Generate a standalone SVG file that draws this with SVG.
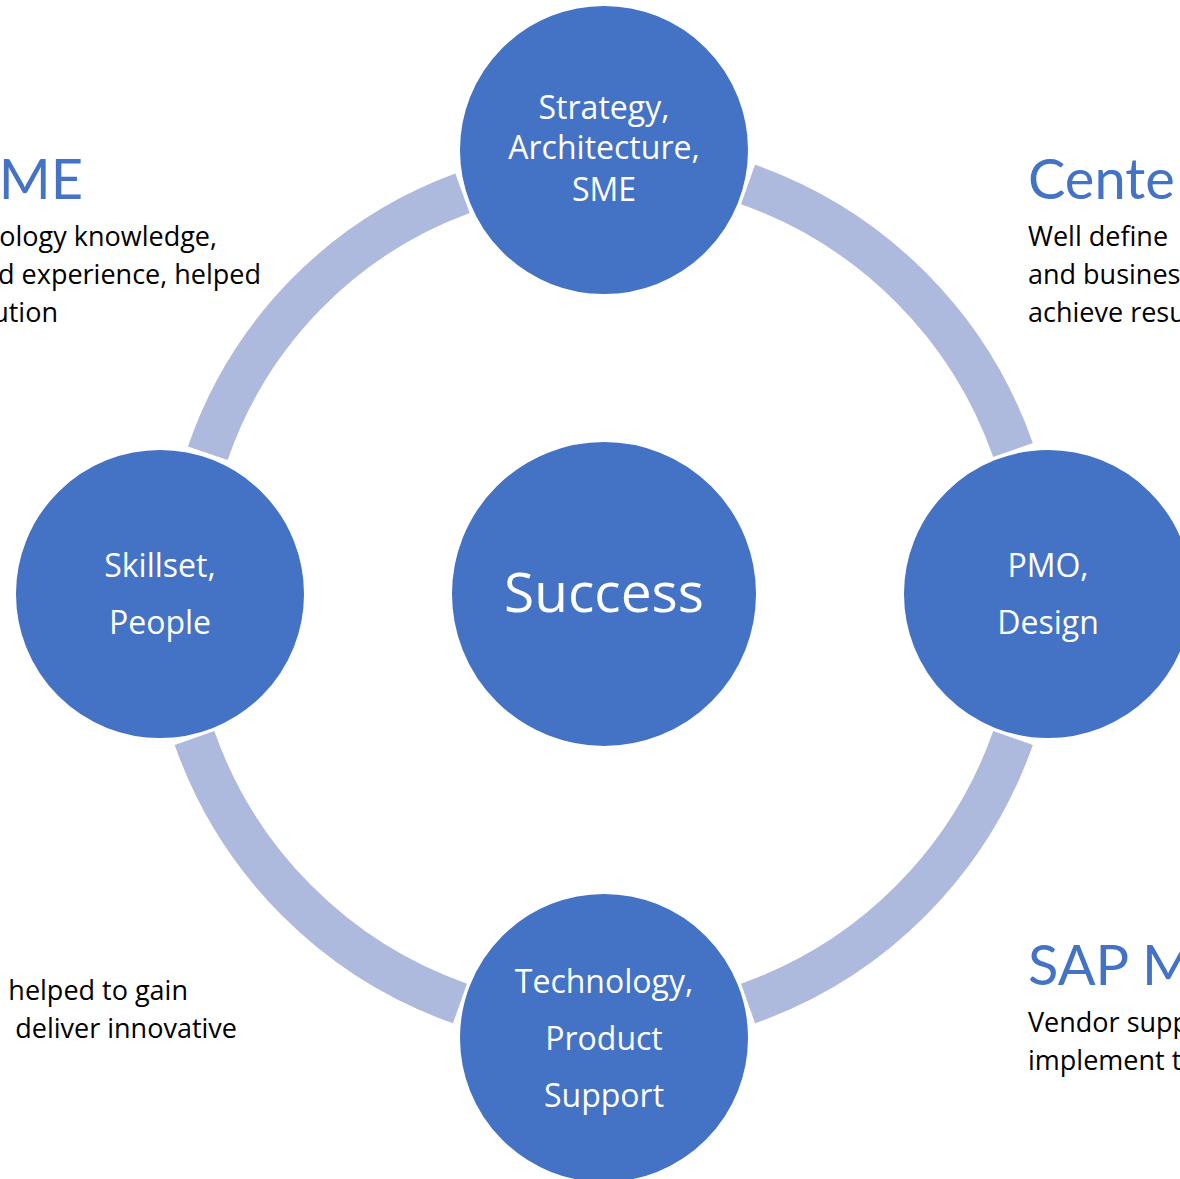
<svg xmlns="http://www.w3.org/2000/svg" width="1180" height="1179" viewBox="0 0 1180 1179">
<style>
.ring{fill:none;stroke:#AEB9DE;stroke-width:42;stroke-linecap:butt}
.node{fill:#4472C4;stroke:#fff;stroke-width:3}
.nt{font-family:"Open Sans",Lato,sans-serif;fill:#fff;font-size:32px;text-anchor:middle}
.title{font-family:Lato,"Open Sans",sans-serif;fill:#4472C4;font-size:56px}
.body{font-family:"Open Sans",Lato,sans-serif;fill:#000;font-size:27px}
.end{text-anchor:end}
</style>
<rect width="1180" height="1179" fill="#fff"/>
<g id="connectors">
<path class="ring" d="M207.8,453.3 A423,423 0 0 1 462.5,193.3"/>
<path class="ring" d="M748,184.5 A434,434 0 0 1 1013,450"/>
<path class="ring" d="M1013,738 A434,434 0 0 1 748,1003.5"/>
<path class="ring" d="M460,1003.5 A434,434 0 0 1 194.5,738"/>
</g>
<g id="node-top">
<circle class="node" cx="604" cy="150" r="145.5"/>
<text class="nt" x="604" y="119">Strategy,</text>
<text class="nt" x="604" y="159">Architecture,</text>
<text class="nt" x="604" y="201">SME</text>
</g>
<g id="node-left">
<circle class="node" cx="160" cy="594" r="145.5"/>
<text class="nt" x="160" y="577">Skillset,</text>
<text class="nt" x="160" y="634">People</text>
</g>
<g id="node-right">
<circle class="node" cx="1048" cy="594" r="145.5"/>
<text class="nt" x="1048" y="577">PMO,</text>
<text class="nt" x="1048" y="634">Design</text>
</g>
<g id="node-bottom">
<circle class="node" cx="604" cy="1038" r="145.5"/>
<text class="nt" x="604" y="993">Technology,</text>
<text class="nt" x="604" y="1050">Product</text>
<text class="nt" x="604" y="1107">Support</text>
</g>
<g id="node-center">
<circle class="node" cx="604" cy="594" r="153.5"/>
<text class="nt" x="604" y="612" style="font-size:55px">Success</text>
</g>
<g id="text-left-top">
<text class="title end" x="83" y="199">ME</text>
<text class="body end" x="217" y="246">ology knowledge,</text>
<text class="body end" x="261" y="284">d experience, helped</text>
<text class="body end" x="58" y="322">ution</text>
</g>
<g id="text-left-bottom">
<text class="body end" x="188" y="1000">helped to gain</text>
<text class="body end" x="237" y="1038">deliver innovative</text>
</g>
<g id="text-right-top">
<text class="title" x="1028" y="199">Cente</text>
<text class="body" x="1028" y="246">Well define</text>
<text class="body" x="1028" y="284">and busines</text>
<text class="body" x="1028" y="322">achieve resu</text>
</g>
<g id="text-right-bottom">
<text class="title" x="1028" y="985">SAP M</text>
<text class="body" x="1028" y="1032">Vendor supp</text>
<text class="body" x="1028" y="1070">implement t</text>
</g>
</svg>
